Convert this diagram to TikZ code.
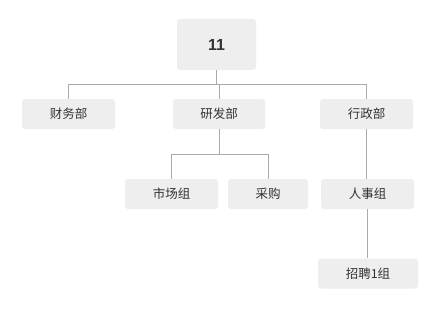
\documentclass[tikz,border=0pt]{standalone}
\usepackage{fontspec}
\newfontfamily\cjk{Noto Sans CJK SC}
\setmainfont{Liberation Sans}
\definecolor{boxfill}{HTML}{EEEEEE}
\definecolor{linegray}{HTML}{ABABAB}
\definecolor{txt}{HTML}{333333}
\begin{document}
\begin{tikzpicture}[x=1pt,y=-1pt,
  orgbox/.style={fill=boxfill, rounded corners=3pt, inner sep=0pt, text=txt, font=\cjk\fontsize{12.5}{14}\selectfont},
  link/.style={draw=linegray, line width=1pt}]
\useasboundingbox[fill=white] (0,0) rectangle (443,310);
\node[orgbox, minimum width=79pt, minimum height=51pt, font=\bfseries\fontsize{16}{18}\selectfont] (root) at (216.5,44.5) {11};
\node[orgbox, minimum width=93pt, minimum height=30pt] (cw) at (68.5,114) {财务部};
\node[orgbox, minimum width=92pt, minimum height=30pt] (yf) at (219,114) {研发部};
\node[orgbox, minimum width=93pt, minimum height=30pt] (xz) at (366.5,114) {行政部};
\node[orgbox, minimum width=93pt, minimum height=30pt] (sc) at (171.5,194) {市场组};
\node[orgbox, minimum width=80pt, minimum height=30pt] (cg) at (268,194) {采购};
\node[orgbox, minimum width=93pt, minimum height=30pt] (rs) at (367.5,194) {人事组};
\node[orgbox, minimum width=100pt, minimum height=30pt] (zp) at (368,273.5) {招聘1组};
\coordinate (bus1) at (0,84);
\coordinate (bus2) at (0,154);
\draw[link] (root.south) -- (root.south |- bus1);
\draw[link] (cw.north) -- (cw.north |- bus1) -- (xz.north |- bus1) -- (xz.north);
\draw[link] (yf.north) -- (yf.north |- bus1);
\draw[link] (yf.south) -- (yf.south |- bus2);
\draw[link] (sc.north) -- (sc.north |- bus2) -- (cg.north |- bus2) -- (cg.north);
\draw[link] (xz.south) -- (xz.south |- rs.north);
\draw[link] (rs.south) -- (rs.south |- zp.north);
\end{tikzpicture}
\end{document}
